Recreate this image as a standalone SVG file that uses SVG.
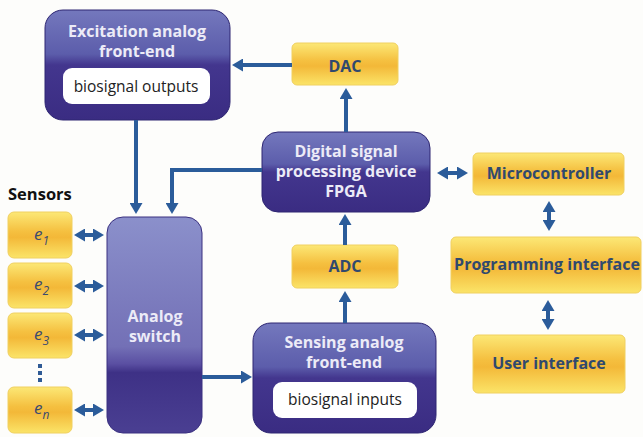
<svg xmlns="http://www.w3.org/2000/svg" width="643" height="437" viewBox="0 0 643 437">
<defs>
<linearGradient id="gPurple" x1="0" y1="0" x2="0" y2="1">
<stop offset="0" stop-color="#7478bd"/>
<stop offset="0.4" stop-color="#5c5dab"/>
<stop offset="0.5" stop-color="#43368e"/>
<stop offset="1" stop-color="#3a2c82"/>
</linearGradient>
<linearGradient id="gSwitch" x1="0" y1="0" x2="0" y2="1">
<stop offset="0" stop-color="#8b90cb"/>
<stop offset="0.6" stop-color="#7370b6"/>
<stop offset="0.68" stop-color="#5a4fa2"/>
<stop offset="0.72" stop-color="#3e3186"/>
<stop offset="1" stop-color="#4a3f92"/>
</linearGradient>
<linearGradient id="gYellow" x1="0" y1="0" x2="0" y2="1">
<stop offset="0" stop-color="#fce876"/>
<stop offset="0.42" stop-color="#f5c040"/>
<stop offset="0.55" stop-color="#f3b838"/>
<stop offset="1" stop-color="#fbe468"/>
</linearGradient>
<marker id="ah" viewBox="0 0 11 13" markerUnits="userSpaceOnUse" markerWidth="11" markerHeight="13" refX="2" refY="6.5" orient="auto-start-reverse">
<path d="M0,0 L11,6.5 L0,13 z" fill="#2b5c9a"/>
</marker>
</defs>
<style>
.p{fill:url(#gPurple);stroke:#2e2672;stroke-width:1}
.sw{fill:url(#gSwitch);stroke:#3a3080;stroke-width:1}
.y{fill:url(#gYellow);stroke:#f0d060;stroke-width:1}
.w{fill:#ffffff}
.tp{font-family:"Open Sans","DejaVu Sans",sans-serif;font-weight:bold;font-size:16px;fill:#ecebf7;text-anchor:middle}
.ty{font-family:"Open Sans","DejaVu Sans",sans-serif;font-weight:bold;font-size:16px;fill:#30496e;text-anchor:middle}
.tw{font-family:"Open Sans","DejaVu Sans",sans-serif;font-size:15.5px;fill:#222;text-anchor:middle}
.te{font-family:"Open Sans","DejaVu Sans",sans-serif;font-style:italic;font-size:17px;fill:#3a4a70}
.ts{font-family:"Open Sans","DejaVu Sans",sans-serif;font-style:italic;font-size:12px;fill:#3a4a70}
.c{fill:none;stroke:#2b5c9a;stroke-width:4}
.e{marker-end:url(#ah)}
.b{marker-start:url(#ah);marker-end:url(#ah)}
</style>
<rect width="643" height="437" fill="#fdfdfb"/>

<g id="excitation">
<rect class="p" x="45" y="10" width="185" height="110" rx="18"/>
<text class="tp" x="137" y="37">Excitation analog</text>
<text class="tp" x="137" y="57">front-end</text>
<rect class="w" x="63" y="68" width="147" height="36" rx="9"/>
<text class="tw" x="136" y="92">biosignal outputs</text>
</g>

<g id="dac">
<rect class="y" x="292" y="43" width="106" height="42" rx="5"/>
<text class="ty" x="345" y="72">DAC</text>
</g>

<g id="fpga">
<rect class="p" x="262" y="132" width="168" height="80" rx="16"/>
<text class="tp" x="346" y="157">Digital signal</text>
<text class="tp" x="346" y="177">processing device</text>
<text class="tp" x="346" y="197">FPGA</text>
</g>

<g id="microcontroller">
<rect class="y" x="473" y="153" width="151" height="42" rx="5"/>
<text class="ty" x="549" y="179">Microcontroller</text>
</g>

<g id="programming">
<rect class="y" x="451" y="237" width="190" height="56" rx="5"/>
<text class="ty" x="547" y="270">Programming interface</text>
</g>

<g id="user">
<rect class="y" x="473" y="335" width="152" height="58" rx="5"/>
<text class="ty" x="549" y="369">User interface</text>
</g>

<g id="adc">
<rect class="y" x="292" y="245" width="106" height="43" rx="5"/>
<text class="ty" x="345" y="272">ADC</text>
</g>

<g id="sensing">
<rect class="p" x="253" y="323" width="183" height="110" rx="18"/>
<text class="tp" x="344" y="348">Sensing analog</text>
<text class="tp" x="344" y="368">front-end</text>
<rect class="w" x="273" y="382" width="144" height="36" rx="9"/>
<text class="tw" x="345" y="405">biosignal inputs</text>
</g>

<g id="switch">
<rect class="sw" x="107" y="217" width="95" height="216" rx="16"/>
<text class="tp" x="155" y="322">Analog</text>
<text class="tp" x="155" y="342">switch</text>
</g>

<g id="sensors">
<text x="8" y="200" font-family="'Open Sans','DejaVu Sans',sans-serif" font-weight="bold" font-size="16.5" fill="#111">Sensors</text>
<rect class="y" x="8" y="212" width="64" height="46" rx="6"/>
<text class="te" x="34" y="240">e<tspan class="ts" dy="5">1</tspan></text>
<rect class="y" x="8" y="263" width="64" height="45" rx="6"/>
<text class="te" x="34" y="290">e<tspan class="ts" dy="5">2</tspan></text>
<rect class="y" x="8" y="313" width="64" height="45" rx="6"/>
<text class="te" x="34" y="340">e<tspan class="ts" dy="5">3</tspan></text>
<rect x="38" y="364" width="4" height="4" fill="#2f5b95"/>
<rect x="38" y="371" width="4" height="4" fill="#2f5b95"/>
<rect x="38" y="378" width="4" height="4" fill="#2f5b95"/>
<rect class="y" x="8" y="387" width="64" height="46" rx="6"/>
<text class="te" x="34" y="414">e<tspan class="ts" dy="5">n</tspan></text>
</g>

<g id="connectors">
<path class="c e" d="M292,65 H241"/>
<path class="c e" d="M346,132 V97"/>
<path class="c e" d="M345,245 V223"/>
<path class="c e" d="M345,323 V300"/>
<path class="c e" d="M136,120 V205"/>
<path class="c e" d="M262,170 H172 V205"/>
<path class="c e" d="M202,377 H243"/>
<path class="c b" d="M446,173 H459"/>
<path class="c b" d="M549,210 V222"/>
<path class="c b" d="M548,309 V321"/>
<path class="c b" d="M83,235 H95"/>
<path class="c b" d="M83,286 H95"/>
<path class="c b" d="M83,335 H95"/>
<path class="c b" d="M83,410 H95"/>
</g>
</svg>
